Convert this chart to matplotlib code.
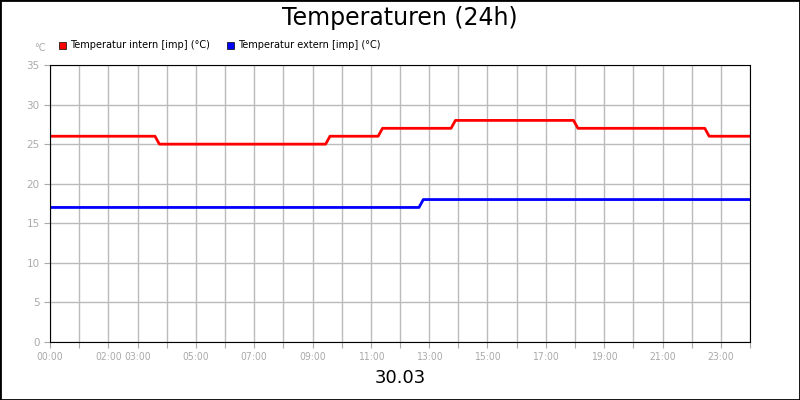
import matplotlib
matplotlib.use('Agg')
import matplotlib.pyplot as plt

# stepped temperatures, hours since 00:00
intern_t = [0, 3.6, 3.75, 9.45, 9.6, 11.25, 11.4, 13.75, 13.9, 17.95, 18.1, 22.45, 22.6, 24]
intern_v = [26, 26, 25, 25, 26, 26, 27, 27, 28, 28, 27, 27, 26, 26]
extern_t = [0, 12.65, 12.8, 24]
extern_v = [17, 17, 18, 18]
tick_labels = {0: '00:00', 2: '02:00', 3: '03:00', 5: '05:00', 7: '07:00', 9: '09:00',
               11: '11:00', 13: '13:00', 15: '15:00', 17: '17:00', 19: '19:00',
               21: '21:00', 23: '23:00'}

fig = plt.figure(figsize=(8, 4), dpi=100)
fig.patches.append(plt.Rectangle((0, 0), 1, 1, transform=fig.transFigure,
                                 fill=False, edgecolor='black', linewidth=2))
ax = fig.add_axes([50/800, 58/400, 700/800, 277/400])
ax.plot(intern_t, intern_v, color='#ff0000', lw=2)
ax.plot(extern_t, extern_v, color='#0000ff', lw=2)
ax.set_xlim(0, 24)
ax.set_ylim(0, 35)
ax.set_yticks(range(0, 36, 5))
ax.set_xticks(range(0, 25))
ax.set_xticklabels([tick_labels.get(h, '') for h in range(25)])
ax.grid(True, color='#bbbbbb', lw=1)
ax.tick_params(colors='#aaaaaa', labelsize=7.5, length=4, labelcolor='#aaaaaa')
for lab in ax.get_xticklabels():
    lab.set_fontstretch('condensed')
    lab.set_family('Liberation Sans Narrow')
for s in ax.spines.values():
    s.set_color('black')
ax.set_axisbelow(True)

fig.text(0.5, 0.955, 'Temperaturen (24h)', ha='center', va='center', fontsize=17)
fig.text(0.5, 0.055, '30.03', ha='center', va='center', fontsize=13)
fig.text(46/800, 0.88, '°C', ha='right', va='center', fontsize=7, color='#aaaaaa')

fig.patches.append(plt.Rectangle((59/800, 0.877), 7/800, 7/400, transform=fig.transFigure,
                                 facecolor='#ff0000', edgecolor='black', lw=0.5))
fig.text(70/800, 0.888, 'Temperatur intern [imp] (°C)', fontsize=7, va='center')
fig.patches.append(plt.Rectangle((227/800, 0.877), 7/800, 7/400, transform=fig.transFigure,
                                 facecolor='#0000ff', edgecolor='black', lw=0.5))
fig.text(238/800, 0.888, 'Temperatur extern [imp] (°C)', fontsize=7, va='center')

fig.savefig('out.png', dpi=100)
